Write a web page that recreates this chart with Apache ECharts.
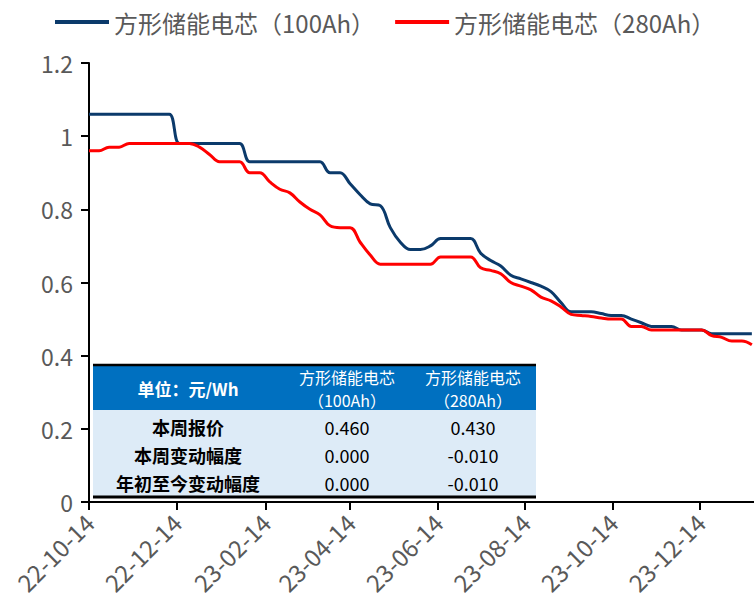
<!DOCTYPE html>
<html>
<head>
<meta charset="utf-8">
<script src="https://cdn.jsdelivr.net/npm/echarts@6/dist/echarts.min.js"></script>
<style>
  html, body { margin: 0; padding: 0; background: #fff; }
  #main { width: 754px; height: 614px; }
</style>
</head>
<body>
<div id="main"></div>
<script>
// 周度报价日期
const dates = [
  '2022-10-14', '2022-10-21', '2022-10-28', '2022-11-04', '2022-11-11', '2022-11-18', '2022-11-25',
  '2022-12-02', '2022-12-09', '2022-12-16', '2022-12-23', '2022-12-30', '2023-01-06', '2023-01-13',
  '2023-01-20', '2023-01-27', '2023-02-03', '2023-02-10', '2023-02-17', '2023-02-24', '2023-03-03',
  '2023-03-10', '2023-03-17', '2023-03-24', '2023-03-31', '2023-04-07', '2023-04-14', '2023-04-21',
  '2023-04-28', '2023-05-05', '2023-05-12', '2023-05-19', '2023-05-26', '2023-06-02', '2023-06-09',
  '2023-06-16', '2023-06-23', '2023-06-30', '2023-07-07', '2023-07-14', '2023-07-21', '2023-07-28',
  '2023-08-04', '2023-08-11', '2023-08-18', '2023-08-25', '2023-09-01', '2023-09-08', '2023-09-15',
  '2023-09-22', '2023-09-29', '2023-10-06', '2023-10-13', '2023-10-20', '2023-10-27', '2023-11-03',
  '2023-11-10', '2023-11-17', '2023-11-24', '2023-12-01', '2023-12-08', '2023-12-15', '2023-12-22',
  '2023-12-29', '2024-01-05', '2024-01-12', '2024-01-19'
]

const cell100 = [
  1.06, 1.06, 1.06, 1.06, 1.06, 1.06, 1.06, 1.06, 1.06, 0.98,
  0.98, 0.98, 0.98, 0.98, 0.98, 0.98, 0.93, 0.93, 0.93, 0.93,
  0.93, 0.93, 0.93, 0.93, 0.90, 0.90, 0.87, 0.84, 0.815, 0.81,
  0.75, 0.71, 0.69, 0.69, 0.70, 0.72, 0.72, 0.72, 0.72, 0.68,
  0.66, 0.645, 0.62, 0.61, 0.60, 0.59, 0.575, 0.545, 0.52, 0.52,
  0.52, 0.515, 0.51, 0.51, 0.50, 0.49, 0.48, 0.48, 0.48, 0.47,
  0.47, 0.47, 0.46, 0.46, 0.46, 0.46, 0.46
]

const cell280 = [
  0.96, 0.96, 0.97, 0.97, 0.98, 0.98, 0.98, 0.98, 0.98, 0.98,
  0.98, 0.97, 0.95, 0.93, 0.93, 0.93, 0.90, 0.90, 0.875, 0.855,
  0.845, 0.82, 0.80, 0.785, 0.755, 0.75, 0.75, 0.71, 0.675, 0.65,
  0.65, 0.65, 0.65, 0.65, 0.65, 0.67, 0.67, 0.67, 0.67, 0.64,
  0.633, 0.624, 0.60, 0.59, 0.58, 0.56, 0.55, 0.533, 0.513, 0.51,
  0.507, 0.503, 0.50, 0.50, 0.48, 0.48, 0.47, 0.47, 0.47, 0.47,
  0.47, 0.47, 0.455, 0.45, 0.44, 0.44, 0.43
]

const seriesNames = ['方形储能电芯（100Ah）', '方形储能电芯（280Ah）']
// x轴刻度日期
const tickDates = ['2022-10-14', '2022-12-14', '2023-02-14', '2023-04-14', '2023-06-14', '2023-08-14', '2023-10-14', '2023-12-14']

// 表格
const tableHead = ['单位：元/Wh', '方形储能电芯', '方形储能电芯']
const tableHead2 = ['', '（100Ah）', '（280Ah）']
const tableRows = ['本周报价', '本周变动幅度', '年初至今变动幅度']
const table100 = ['0.460', '0.000', '0.000']
const table280 = ['0.430', '-0.010', '-0.010']

const toTime = (s) => {
  const p = s.split('-')
  return new Date(+p[0], +p[1] - 1, +p[2]).getTime()
}
const pad = (n) => (n < 10 ? '0' + n : '' + n)

const FONT = "'Noto Sans CJK SC', sans-serif"
const GRAY = '#595959'

const cellText = (x, y, text, color, font) => ({
  type: 'text',
  x: x,
  y: y,
  style: { text: text, fill: color, font: font, align: 'center', verticalAlign: 'middle' }
})

const buildTable = () => {
  const x0 = 93
  const x1 = 536
  const colX = [188, 347, 473]
  const rowY = [427, 455, 483]
  const els = [
    { type: 'rect', shape: { x: x0, y: 365, width: x1 - x0, height: 45 }, style: { fill: '#0070C0' } },
    { type: 'rect', shape: { x: x0, y: 410, width: x1 - x0, height: 86 }, style: { fill: '#DDEBF7' } },
    { type: 'line', shape: { x1: x0, y1: 365, x2: x1, y2: 365 }, style: { stroke: '#000', lineWidth: 2.5 } },
    { type: 'line', shape: { x1: x0, y1: 497, x2: x1, y2: 497 }, style: { stroke: '#000', lineWidth: 3 } }
  ]
  // 表头
  els.push(cellText(colX[0], 388, tableHead[0], '#fff', 'bold 17px ' + FONT))
  for (let i = 1; i < 3; i++) {
    els.push(cellText(colX[i], 377, tableHead[i], '#fff', '16px ' + FONT))
    els.push(cellText(colX[i], 400, tableHead2[i], '#fff', '16px ' + FONT))
  }
  tableRows.forEach((t, r) => {
    els.push(cellText(colX[0], rowY[r], t, '#000', 'bold 18px ' + FONT))
    els.push(cellText(colX[1], rowY[r], table100[r], '#000', '18px ' + FONT))
    els.push(cellText(colX[2], rowY[r], table280[r], '#000', '18px ' + FONT))
  })
  return els
}

const chart = echarts.init(document.getElementById('main'), null, { renderer: 'svg' })

const option = {
  animation: false,
  textStyle: { fontFamily: FONT },
  legend: {
    top: 5,
    left: 50,
    icon: 'rect',
    itemWidth: 54,
    itemHeight: 4,
    itemGap: 20,
    textStyle: { color: GRAY, fontSize: 24, fontFamily: FONT },
    data: seriesNames
  },
  grid: {
    left: 89,
    right: 0,
    top: 63,
    bottom: 112,
    outerBoundsMode: 'none'
  },
  xAxis: {
    type: 'value',
    min: toTime('2022-10-14'),
    max: toTime('2024-01-20') + 12 * 3600 * 1000,
    axisLine: { lineStyle: { color: '#000', width: 2 } },
    axisTick: {
      show: true,
      length: 8,
      lineStyle: { color: '#000', width: 2 },
      customValues: tickDates.map(toTime)
    },
    axisLabel: {
      rotate: 45,
      margin: 16,
      color: GRAY,
      fontSize: 24,
      fontFamily: FONT,
      customValues: tickDates.map(toTime),
      formatter: (val) => {
        const d = new Date(val)
        return pad(d.getFullYear() % 100) + '-' + pad(d.getMonth() + 1) + '-' + pad(d.getDate())
      }
    },
    splitLine: { show: false }
  },
  yAxis: {
    type: 'value',
    min: 0,
    max: 1.2,
    interval: 0.2,
    axisLine: { show: true, lineStyle: { color: '#000', width: 2 } },
    axisTick: { show: true, length: 8, lineStyle: { color: '#000', width: 2 } },
    axisLabel: { color: GRAY, fontSize: 23, margin: 16, fontFamily: FONT },
    splitLine: { show: false }
  },
  series: [
    {
      name: seriesNames[0],
      type: 'line',
      data: dates.map((d, i) => [toTime(d), cell100[i]]),
      showSymbol: false,
      symbol: 'none',
      smooth: 0.4,
      lineStyle: { color: '#0b3a6b', width: 3 },
      itemStyle: { color: '#0b3a6b' }
    },
    {
      name: seriesNames[1],
      type: 'line',
      data: dates.map((d, i) => [toTime(d), cell280[i]]),
      showSymbol: false,
      symbol: 'none',
      smooth: 0.4,
      lineStyle: { color: '#ff0000', width: 3 },
      itemStyle: { color: '#ff0000' }
    }
  ],
  graphic: buildTable()
}

chart.setOption(option)
</script>
</body>
</html>
